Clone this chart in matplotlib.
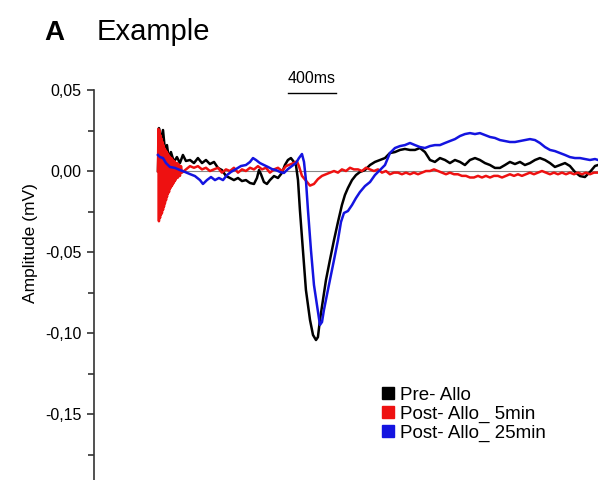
import matplotlib
matplotlib.use('Agg')
import matplotlib.pyplot as plt
from matplotlib.lines import Line2D
from matplotlib.ticker import FuncFormatter, MultipleLocator

plt.rcParams['font.family'] = ['Liberation Sans', 'DejaVu Sans']

# Data (time in ms, amplitude in mV)
pre_t = [0, 8, 25, 42, 58, 75, 92, 108, 133, 158, 183, 208, 233, 267, 300, 333, 367, 400,
         433, 467, 500, 533, 567, 600, 633, 667, 700, 733, 767, 800, 825, 842, 858, 883,
         908, 933, 967, 1000, 1033, 1058, 1083, 1108, 1133, 1150, 1167, 1183, 1208, 1233,
         1267, 1292, 1317, 1333, 1350, 1375, 1400, 1433, 1467, 1500, 1533, 1558, 1583,
         1617, 1650, 1683, 1725, 1767, 1808, 1850, 1892, 1933, 1975, 2017, 2058, 2100,
         2142, 2183, 2225, 2267, 2308, 2350, 2392, 2433, 2475, 2517, 2558, 2600, 2642,
         2683, 2725, 2767, 2808, 2850, 2892, 2933, 2975, 3017, 3058, 3100, 3142, 3183,
         3225, 3267, 3308, 3350, 3392, 3433, 3475, 3517, 3558, 3600, 3642, 3667]
pre_v = [0.000, 0.0265, 0.0191, 0.0253, 0.0130, 0.0160, 0.0068, 0.0117, 0.0056, 0.0086,
         0.0049, 0.0099, 0.0062, 0.0068, 0.0049, 0.0080, 0.0049, 0.0068, 0.0043, 0.0056,
         0.0019, 0.0006, -0.0031, -0.0043, -0.0056, -0.0043, -0.0062, -0.0056, -0.0074,
         -0.0080, -0.0043, 0.0006, -0.0019, -0.0068, -0.0080, -0.0056, -0.0031, -0.0043,
         -0.0012, 0.0037, 0.0068, 0.0080, 0.0056, 0.0037, -0.0056, -0.0241, -0.0488,
         -0.0734, -0.0919, -0.1012, -0.1043, -0.1025, -0.0919, -0.0796, -0.0673, -0.0549,
         -0.0426, -0.0315, -0.0210, -0.0148, -0.0105, -0.0056, -0.0025, -0.0006, 0.0006,
         0.0037, 0.0056, 0.0068, 0.0080, 0.0111, 0.0117, 0.0130, 0.0136, 0.0130, 0.0130,
         0.0142, 0.0117, 0.0068, 0.0056, 0.0080, 0.0068, 0.0049, 0.0068, 0.0056, 0.0037,
         0.0068, 0.0080, 0.0068, 0.0049, 0.0037, 0.0019, 0.0019, 0.0037, 0.0056, 0.0043,
         0.0056, 0.0037, 0.0049, 0.0068, 0.0080, 0.0068, 0.0049, 0.0025, 0.0037, 0.0049,
         0.0031, -0.0006, -0.0031, -0.0037, -0.0006, 0.0031, 0.0037]

post5_t = [0, 4, 8, 12, 17, 21, 25, 29, 33, 37, 42, 46, 50, 54, 58, 62, 67, 71, 75, 79,
           83, 87, 92, 96, 100, 104, 108, 112, 117, 121, 125, 129, 133, 137, 142, 146,
           150, 158, 167, 175, 183, 192, 200, 233, 267, 300, 333, 367, 400, 433, 467,
           500, 533, 567, 600, 633, 667, 700, 733, 767, 800, 833, 867, 900, 933, 967,
           1000, 1033, 1067, 1100, 1133, 1158, 1175, 1200, 1233, 1267, 1300, 1333, 1367,
           1400, 1433, 1467, 1500, 1533, 1567, 1600, 1633, 1667, 1700, 1733, 1767, 1800,
           1833, 1867, 1900, 1933, 1967, 2000, 2033, 2067, 2100, 2133, 2167, 2200, 2233,
           2267, 2300, 2333, 2367, 2400, 2433, 2467, 2500, 2533, 2567, 2600, 2633, 2667,
           2700, 2733, 2767, 2800, 2833, 2867, 2900, 2933, 2967, 3000, 3033, 3067, 3100,
           3133, 3167, 3200, 3233, 3267, 3300, 3333, 3367, 3400, 3433, 3467, 3500, 3533,
           3567, 3600, 3633, 3667]
post5_v = [0.000, 0.026, -0.031, 0.025, -0.029, 0.022, -0.027, 0.020, -0.026, 0.018,
           -0.024, 0.016, -0.022, 0.014, -0.020, 0.013, -0.018, 0.012, -0.016, 0.011,
           -0.014, 0.010, -0.013, 0.009, -0.011, 0.008, -0.010, 0.008, -0.009, 0.007,
           -0.008, 0.006, -0.007, 0.006, -0.006, 0.005, -0.005, 0.005, -0.004, 0.004,
           -0.003, 0.003, -0.001, 0.001, 0.003, 0.002, 0.003, 0.001, 0.002, 0.000, 0.001,
           0.002, -0.001, 0.001, 0.000, 0.002, -0.001, 0.001, 0.000, 0.002, 0.001, 0.003,
           0.001, 0.002, -0.001, 0.001, 0.002, 0.000, 0.003, 0.004, 0.005, 0.006, 0.003,
           -0.003, -0.006, -0.009, -0.008, -0.005, -0.003, -0.002, -0.001, 0.000, -0.001,
           0.001, 0.000, 0.002, 0.001, 0.001, 0.000, 0.002, 0.001, 0.000, 0.001, -0.001,
           0.000, -0.002, -0.001, -0.001, -0.002, -0.001, -0.002, -0.001, -0.002, -0.001,
           0.000, 0.000, 0.001, 0.000, -0.001, -0.002, -0.001, -0.002, -0.002, -0.003,
           -0.003, -0.004, -0.004, -0.003, -0.004, -0.003, -0.004, -0.003, -0.003, -0.004,
           -0.003, -0.002, -0.003, -0.002, -0.003, -0.002, -0.001, -0.002, -0.001, 0.000,
           -0.001, -0.002, -0.001, -0.002, -0.001, -0.002, -0.001, -0.002, -0.001, -0.002,
           -0.001, -0.002, -0.001, -0.001]

post25_t = [0, 17, 42, 67, 100, 142, 183, 225, 267, 308, 350, 375, 408, 442, 475, 508,
            542, 575, 608, 650, 692, 733, 767, 792, 817, 850, 883, 917, 950, 983, 1017,
            1050, 1083, 1117, 1150, 1175, 1200, 1217, 1233, 1250, 1275, 1300, 1325, 1350,
            1367, 1383, 1408, 1433, 1467, 1500, 1525, 1550, 1583, 1617, 1650, 1683, 1725,
            1767, 1808, 1850, 1892, 1933, 1975, 2017, 2058, 2100, 2142, 2183, 2225, 2267,
            2308, 2350, 2392, 2433, 2475, 2517, 2558, 2600, 2642, 2683, 2725, 2767, 2808,
            2850, 2892, 2933, 2975, 3017, 3058, 3100, 3142, 3183, 3225, 3267, 3308, 3350,
            3392, 3433, 3475, 3517, 3558, 3600, 3642, 3667]
post25_v = [0.0099, 0.0086, 0.0080, 0.0049, 0.0025, 0.0019, 0.0006, -0.0006, -0.0019,
            -0.0031, -0.0056, -0.0080, -0.0056, -0.0037, -0.0056, -0.0043, -0.0056,
            -0.0025, -0.0006, 0.0012, 0.0031, 0.0037, 0.0056, 0.0080, 0.0068, 0.0049,
            0.0037, 0.0025, 0.0012, 0.0006, -0.0006, -0.0012, 0.0012, 0.0031, 0.0049,
            0.0080, 0.0105, 0.0056, -0.0056, -0.0241, -0.0488, -0.0703, -0.0827, -0.0950,
            -0.0932, -0.0858, -0.0765, -0.0673, -0.0549, -0.0426, -0.0315, -0.0259,
            -0.0247, -0.0210, -0.0167, -0.0130, -0.0093, -0.0068, -0.0025, 0.0006, 0.0037,
            0.0111, 0.0142, 0.0154, 0.0160, 0.0173, 0.0160, 0.0148, 0.0142, 0.0154, 0.0160,
            0.0160, 0.0173, 0.0185, 0.0197, 0.0216, 0.0228, 0.0234, 0.0228, 0.0234, 0.0222,
            0.0210, 0.0204, 0.0191, 0.0185, 0.0179, 0.0179, 0.0185, 0.0191, 0.0197, 0.0191,
            0.0173, 0.0148, 0.0130, 0.0123, 0.0111, 0.0099, 0.0086, 0.0080, 0.0080, 0.0074,
            0.0068, 0.0074, 0.0068]

labels = ['Pre- Allo', 'Post- Allo_ 5min', 'Post- Allo_ 25min']
colors = ['black', '#ee1111', '#1414e0']
y_ticks = [0.05, 0.0, -0.05, -0.10, -0.15]
scale_len = 400  # ms

fig = plt.figure(figsize=(5.98, 4.80), dpi=100)
ax = fig.add_axes([94 / 598, 0, 504 / 598, 390 / 480])

ax.plot([0, 3667], [0, 0], color='#888888', lw=0.8, zorder=1)
ax.plot(pre_t, pre_v, color=colors[0], lw=1.8, zorder=2)
ax.plot(post5_t, post5_v, color=colors[1], lw=1.8, zorder=3)
ax.plot(post25_t, post25_v, color=colors[2], lw=1.8, zorder=4)

ax.set_xlim(-533, 3667)
ax.set_ylim(-0.1907, 0.05)

for s in ['top', 'right', 'bottom']:
    ax.spines[s].set_visible(False)
ax.spines['left'].set_linewidth(1.2)
ax.spines['left'].set_color('#333333')
ax.set_xticks([])
ax.set_yticks(y_ticks)
ax.yaxis.set_minor_locator(MultipleLocator(0.025))
ax.yaxis.set_major_formatter(FuncFormatter(lambda v, p: f"{abs(v) if abs(v) < 1e-9 else v:.2f}".replace('.', ',')))
ax.tick_params(axis='y', which='major', length=5, width=1.2, labelsize=11.5, pad=4, color='#333333')
ax.tick_params(axis='y', which='minor', length=4, width=1.2, color='#333333')
ax.set_ylabel('Amplitude (mV)', fontsize=12.5)
ax.yaxis.set_label_coords(-0.111, 0.608)

# scale bar
ax.plot([1083, 1083 + scale_len], [0.0481, 0.0481], color='black', lw=1.0, clip_on=False)
ax.text(1083 + scale_len / 2, 0.0525, '400ms', ha='center', va='bottom', fontsize=11.5)

handles = [Line2D([], [], marker='s', ls='none', color=c, markersize=8) for c in colors]
fig.legend(handles, labels, loc='upper left', bbox_to_anchor=(374 / 598, 1 - 377 / 480),
           frameon=False, fontsize=13.5, handlelength=0.5, handletextpad=0.4,
           labelspacing=0.1, borderpad=0)

fig.text(44 / 598, 1 - 40 / 480, 'A', fontsize=20, fontweight='bold', va='baseline')
fig.text(97 / 598, 1 - 40 / 480, 'Example', fontsize=21, va='baseline')

fig.savefig('out.png', dpi=100)
